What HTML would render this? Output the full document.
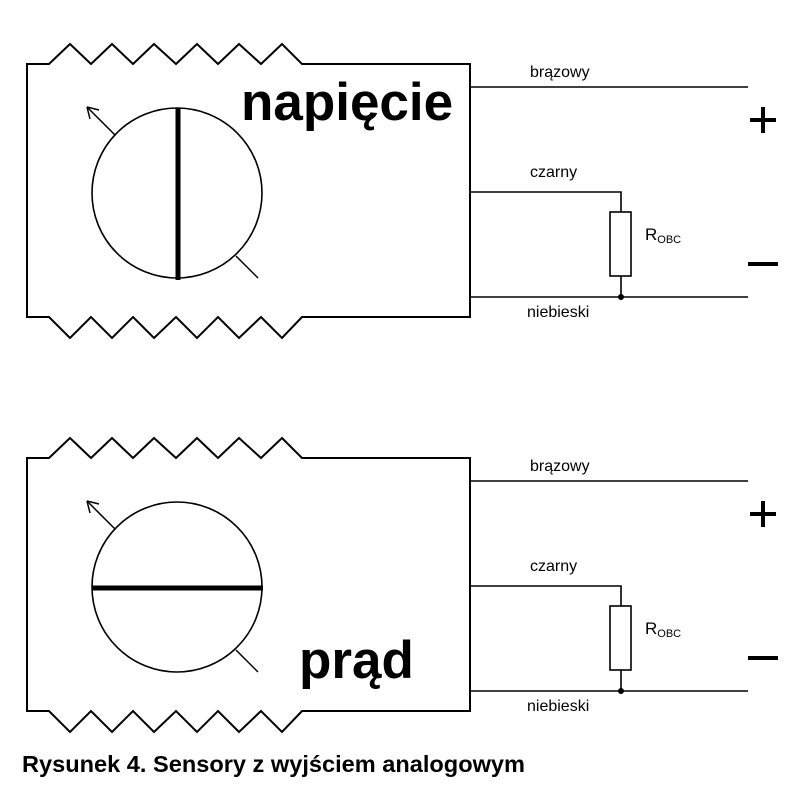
<!DOCTYPE html>
<html><head><meta charset="utf-8"><style>
html,body{margin:0;padding:0;background:#fff;width:805px;height:785px;overflow:hidden}
svg{display:block}
text{font-family:"Liberation Sans",Arial,sans-serif}
</style></head><body>
<svg width="805" height="785" viewBox="0 0 805 785" xmlns="http://www.w3.org/2000/svg">
<defs>
<g id="box" fill="none" stroke="#000">
  <path d="M27,64 H49 L70,44 L91,64 L112,44 L133,64 L154,44 L176,64 L197,44 L218,64 L239,44 L261,64 L282,44 L302,64 H470 V317 H302 L282,338 L261,317 L239,338 L218,317 L197,338 L176,317 L154,338 L133,317 L112,338 L91,317 L70,338 L49,317 H27 Z" stroke-width="2"/>
  <circle cx="177" cy="193" r="85" stroke-width="1.6"/>
  <line x1="115" y1="135" x2="87" y2="107" stroke-width="1.5"/>
  <path d="M87,107 L90,119 M87,107 L99,110" stroke-width="1.5"/>
  <line x1="236" y1="256" x2="258" y2="278" stroke-width="1.5"/>
  <path d="M470,87 H748 M470,192 H621 V212 M621,276 V297 M470,297 H748" stroke-width="1.6"/>
  <rect x="610" y="212" width="21" height="64" stroke-width="1.6"/>
  <circle cx="621" cy="297" r="3" fill="#000" stroke="none"/>
  <rect x="750" y="118" width="26" height="4" fill="#000" stroke="none"/>
  <rect x="761" y="107" width="4" height="26" fill="#000" stroke="none"/>
  <rect x="748" y="262" width="30" height="4" fill="#000" stroke="none"/>
</g>
<g id="lbl" font-size="16" fill="#000">
  <text x="530" y="77">brązowy</text>
  <text x="530" y="177">czarny</text>
  <text x="527" y="317">niebieski</text>
  <text x="645" y="240" font-size="17">R<tspan font-size="11" dy="3">OBC</tspan></text>
</g>
</defs>
<use href="#box"/><use href="#lbl"/>
<line x1="178" y1="108" x2="178" y2="280" stroke="#000" stroke-width="5"/>
<text x="241" y="120" font-size="53" font-weight="bold">napięcie</text>
<g transform="translate(0,394)"><use href="#box"/><use href="#lbl"/></g>
<line x1="92" y1="588" x2="263" y2="588" stroke="#000" stroke-width="5"/>
<text x="299" y="678" font-size="53" font-weight="bold">prąd</text>
<text x="22" y="772" font-size="23" font-weight="bold" textLength="503" lengthAdjust="spacingAndGlyphs">Rysunek 4. Sensory z wyjściem analogowym</text>
</svg>
</body></html>
